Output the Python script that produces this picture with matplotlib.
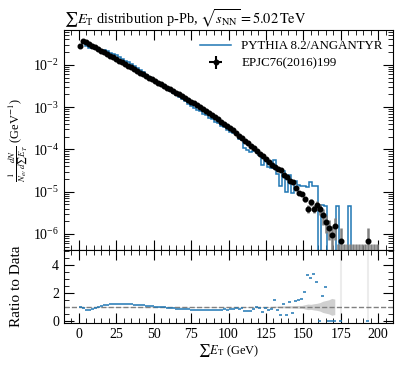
import numpy as np
import matplotlib
matplotlib.use('Agg')
import matplotlib.pyplot as plt
from matplotlib.ticker import MultipleLocator, LogLocator, NullFormatter

plt.rcParams['font.family'] = ['Liberation Serif', 'DejaVu Serif']
plt.rcParams['mathtext.fontset'] = 'stix'

# 2 GeV bins from 0 to 200
bin_lo = np.arange(0, 200, 2)
bin_hi = bin_lo + 2
centers = bin_lo + 1

# data (EPJC76(2016)199), 0 = empty bin
data_y = [
    2.88e-2, 3.72e-2, 3.47e-2, 3.16e-2, 2.88e-2, 2.63e-2, 2.40e-2, 2.19e-2, 2.00e-2, 1.82e-2,
    1.66e-2, 1.51e-2, 1.38e-2, 1.26e-2, 1.15e-2, 1.05e-2, 9.55e-3, 8.71e-3, 7.94e-3, 7.24e-3,
    6.61e-3, 6.03e-3, 5.50e-3, 5.01e-3, 4.57e-3, 4.17e-3, 3.80e-3, 3.47e-3, 3.16e-3, 2.88e-3,
    2.63e-3, 2.40e-3, 2.19e-3, 2.00e-3, 1.82e-3, 1.66e-3, 1.48e-3, 1.35e-3, 1.23e-3, 1.10e-3,
    1.00e-3, 8.91e-4, 8.13e-4, 7.24e-4, 6.46e-4, 5.75e-4, 5.13e-4, 4.57e-4, 4.07e-4, 3.63e-4,
    3.16e-4, 2.82e-4, 2.45e-4, 2.14e-4, 1.86e-4, 1.62e-4, 1.41e-4, 1.23e-4, 1.07e-4, 9.33e-5,
    7.94e-5, 6.92e-5, 6.03e-5, 5.13e-5, 4.37e-5, 3.80e-5, 3.39e-5, 3.24e-5, 2.51e-5, 2.24e-5,
    1.78e-5, 1.66e-5, 1.26e-5, 9.55e-6, 8.71e-6, 6.61e-6, 3.98e-6, 5.62e-6, 3.98e-6, 4.90e-6,
    3.98e-6, 2.75e-6, 1.91e-6, 1.41e-6, 9.5e-7, 1.58e-6, 0, 6.8e-7, 0, 0,
    0, 0, 0, 0, 0, 0, 6.8e-7, 0, 0, 0,
]

# relative uncertainty of the data
data_rel_err = [0.02] * 65 + [
    0.05, 0.05, 0.06, 0.07, 0.07, 0.08, 0.08, 0.09, 0.10, 0.10,
    0.15, 0.20, 0.18, 0.22, 0.25, 0.30, 0.40, 0.45, 0.50, 0.60,
    0.55, 1.0, 1.0, 1.0, 1.0, 1.0, 1.0, 1.0, 1.0, 1.0,
    1.0, 1.0, 1.0, 1.0, 1.0,
]
empty_bin_err = 5.8e-7

# PYTHIA 8.2/ANGANTYR over data
ratio = [
    1.00, 0.95, 0.80, 0.80, 0.85, 0.92, 1.00, 1.05, 1.10, 1.15,
    1.18, 1.20, 1.22, 1.22, 1.22, 1.21, 1.20, 1.18, 1.16, 1.14,
    1.12, 1.10, 1.08, 1.06, 1.04, 1.02, 1.00, 0.98, 0.96, 0.94,
    0.92, 0.90, 0.88, 0.86, 0.84, 0.83, 0.82, 0.80, 0.80, 0.79,
    0.80, 0.79, 0.80, 0.78, 0.80, 0.79, 0.81, 0.80, 0.82, 0.80,
    0.84, 0.88, 0.95, 0.83, 0.90, 0.68, 0.70, 0.72, 0.85, 0.98,
    0.92, 0.62, 0.95, 0.75, 0.83, 1.50, 0.79, 0.43, 1.21, 0.43,
    1.38, 0.55, 1.45, 1.50, 1.55, 2.05, 3.29, 3.05, 3.36, 2.80,
    0, 1.74, 2.40, 0, 0, 0, 0, 0, 0, 0,
    0, 0, 0, 0, 0, 0, 0, 0, 0, 0,
]
# MC bins where the data bin is empty
mc_only = {173: 4.5e-6, 181: 4.5e-6}

data_y = np.array(data_y)
data_rel_err = np.array(data_rel_err)
ratio = np.array(ratio)
has_data = data_y > 0

mc_y = data_y * ratio
for c, v in mc_only.items():
    mc_y[centers == c] = v

fig = plt.figure(figsize=(4.07, 3.66), dpi=100)
ax = fig.add_axes([0.157, 0.317, 0.809, 0.601])
axr = fig.add_axes([0.157, 0.1175, 0.809, 0.1995], sharex=ax)

blue = '#1f77b4'

# MC histogram (start at first filled bin, no outer edges)
edges = np.append(bin_lo, bin_hi[-1])
ax.stairs(mc_y, edges, baseline=None, color=blue, lw=1.1,
          label='PYTHIA 8.2/ANGANTYR', zorder=2)

# data error bars
err = np.where(has_data, data_y * data_rel_err, empty_bin_err)
lo_err = np.minimum(err, data_y)
ax.vlines(centers, np.where(has_data, data_y - lo_err, 1e-9), data_y + err,
          color='#808080', lw=1.8, zorder=3)
ax.plot(centers[has_data], data_y[has_data], 'o', color='k', ms=3.3, zorder=4)
leg_data = ax.errorbar([np.nan], [np.nan], xerr=[1], yerr=[1], fmt='o', color='k',
                       ms=3.3, label='EPJC76(2016)199')

ax.set_yscale('log')
ax.set_ylim(4.2e-7, 6.7e-2)
ax.set_xlim(-10, 210)
ax.yaxis.set_major_locator(LogLocator(base=10, numticks=20))
ax.yaxis.set_minor_locator(LogLocator(base=10, subs=np.arange(2, 10), numticks=20))
ax.yaxis.set_minor_formatter(NullFormatter())
ax.tick_params(labelbottom=False)
ax.set_ylabel(r'$\frac{1}{N_{ev}}\frac{dN}{d\sum E_T}$ (GeV$^{-1}$)', fontsize=9)
ax.set_title(r'$\sum E_\mathrm{T}$ distribution p-Pb, $\sqrt{s_\mathrm{NN}} = 5.02\,\mathrm{TeV}$',
             loc='left', fontsize=10.4, pad=2)

handles = [ax.get_legend_handles_labels()[0][0], leg_data]
ax.legend(handles, ['PYTHIA 8.2/ANGANTYR', 'EPJC76(2016)199'], loc='upper right',
          frameon=False, fontsize=9.3, handlelength=2.4, borderaxespad=0.4,
          labelspacing=0.4)

# ratio panel
band = has_data & (data_rel_err < 1)
axr.fill_between(centers[band], 1 - data_rel_err[band], 1 + data_rel_err[band],
                 color='#d0d0d0', lw=0, zorder=1)
big = has_data & (data_rel_err >= 1)
axr.vlines(centers[big], 0, 5.1, color='#ececec', lw=1.5, zorder=1)
axr.axhline(1, color='#808080', ls='--', lw=1, zorder=2)
axr.hlines(ratio[has_data], bin_lo[has_data], bin_hi[has_data], color=blue, lw=1.1, zorder=3)
axr.set_ylim(-0.15, 5.05)
axr.set_ylabel('Ratio to Data', fontsize=11)
axr.set_xlabel(r'$\sum E_\mathrm{T}$ (GeV)', fontsize=9, labelpad=1)
axr.yaxis.set_major_locator(MultipleLocator(2))
axr.yaxis.set_minor_locator(MultipleLocator(0.5))
axr.xaxis.set_major_locator(MultipleLocator(25))
axr.xaxis.set_minor_locator(MultipleLocator(5))

for a in (ax, axr):
    a.tick_params(which='both', direction='in', top=True, right=True, labelsize=10)
    a.tick_params(which='major', length=7)
    a.tick_params(which='minor', length=3.5)

ax.yaxis.set_label_coords(-0.1, 0.5)
axr.yaxis.set_label_coords(-0.125, 0.5)

fig.savefig('out.png', dpi=100)
